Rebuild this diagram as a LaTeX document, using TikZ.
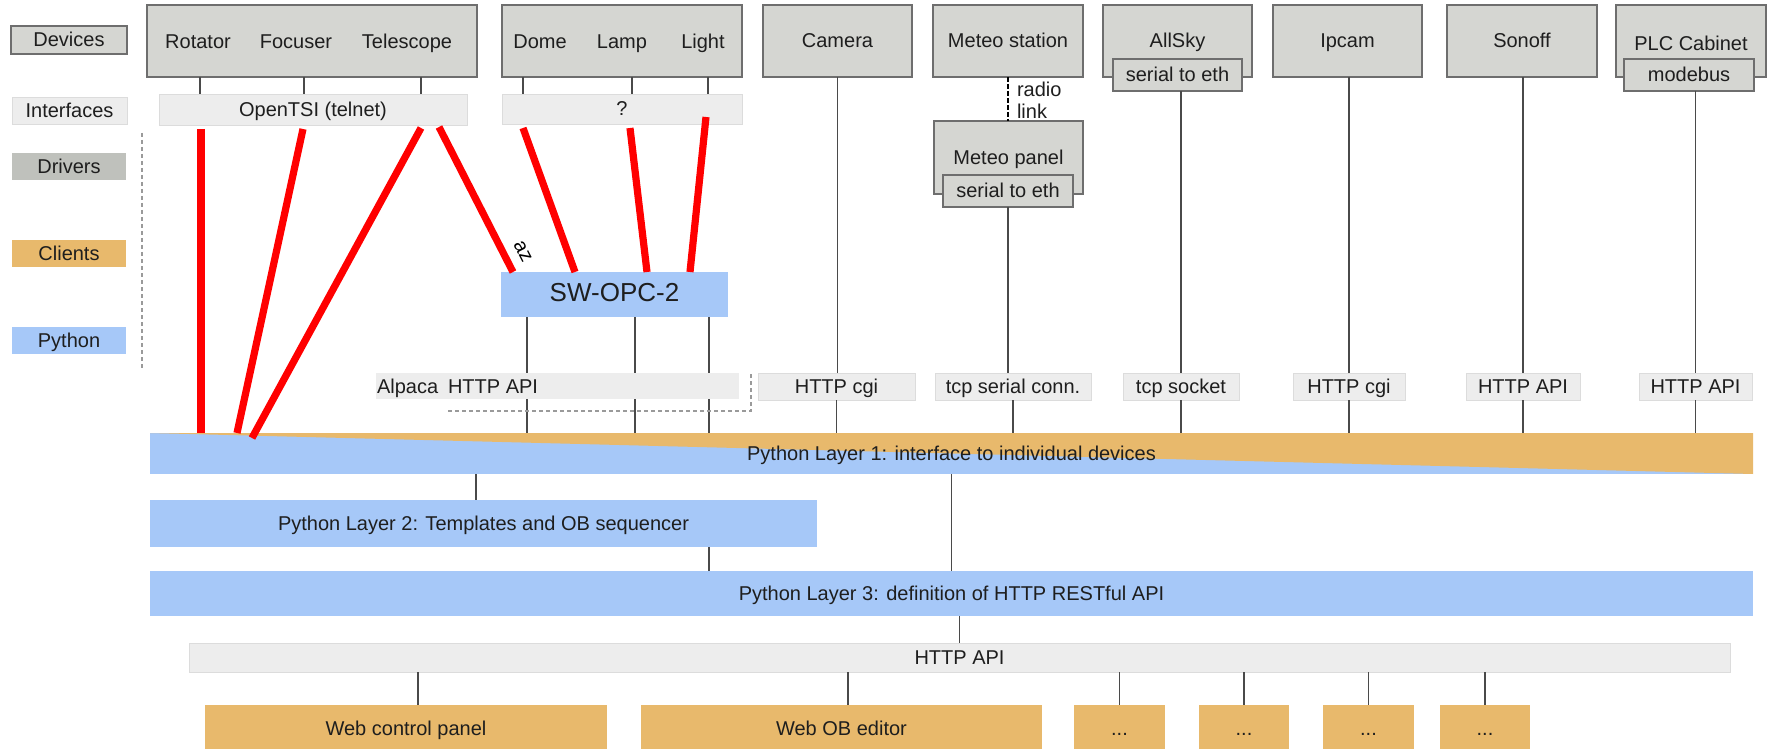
\documentclass[tikz,border=0pt]{standalone}
\usepackage{fontspec}
\setmainfont{Liberation Sans}
\usetikzlibrary{calc}
\definecolor{devgray}{HTML}{D5D6D2}
\definecolor{devborder}{HTML}{6E6E6E}
\definecolor{ifgray}{HTML}{EDEDED}
\definecolor{ifborder}{HTML}{DCDCDC}
\definecolor{drvgray}{HTML}{BFC1BC}
\definecolor{clorange}{HTML}{E8B96C}
\definecolor{pyblue}{HTML}{A6C8F8}
\definecolor{lnkgray}{HTML}{4A4A4A}
\definecolor{txtcol}{HTML}{1E1E1E}
\definecolor{dashgray}{HTML}{9A9A9A}

\newcommand\bx[7]{\node[#6, minimum width={(#4-#2)*0.5pt}, minimum height={(#5-#3)*0.5pt}] (#1) at ({(#2+#4)/2},{(#3+#5)/2}) {#7};}

\tikzset{
  every node/.style={inner sep=0pt, outer sep=0pt, text=txtcol, font=\fontsize{10}{12}\selectfont, text height=8pt, text depth=1pt},
  devbox/.style={draw=devborder, fill=devgray, line width=0.9pt},
  ifbox/.style={draw=ifborder, fill=ifgray, line width=0.4pt},
  drvbox/.style={fill=drvgray},
  clbox/.style={fill=clorange},
  pybox/.style={fill=pyblue},
  lnk/.style={draw=lnkgray, line width=0.75pt},
  dlnk/.style={draw=dashgray, line width=0.6pt, dash pattern=on 2pt off 1.5pt},
  redl/.style={draw=red, line width=3.6pt},
}

\begin{document}
\begin{tikzpicture}[x=0.5pt, y=-0.5pt]
\useasboundingbox (0,0) rectangle (1769,749);

% ---------- legend ----------
\bx{lgdev}{11}{26}{127}{54}{devbox}{Devices}
\bx{lgif}{12}{97}{127}{124}{ifbox}{Interfaces}
\bx{lgdrv}{12}{153}{126}{180}{drvbox}{Drivers}
\bx{lgcl}{12}{240}{126}{267}{clbox}{Clients}
\bx{lgpy}{12}{327}{126}{354}{pybox}{Python}
\coordinate (dsa) at (142,133);
\coordinate (dsb) at (142,370);
\draw[dlnk] (dsa) -- (dsb);

% ---------- devices ----------
\bx{dev1}{147}{5}{477}{77}{devbox}{}
\node (rot) at (198,42) {Rotator};
\node (foc) at (296,42) {Focuser};
\node (tel) at (407,42) {Telescope};
\bx{tsi}{159}{94}{467}{125}{ifbox}{OpenTSI (telnet)}

\bx{dev2}{502}{5}{742}{77}{devbox}{}
\node (dome) at (540,42) {Dome};
\node (lamp) at (622,42) {Lamp};
\node (light) at (703,42) {Light};
\bx{qif}{502}{94}{742}{124}{ifbox}{?}

\bx{cam}{763}{5}{912}{77}{devbox}{Camera}
\bx{met}{933}{5}{1083}{77}{devbox}{Meteo station}
\bx{metp}{934}{121}{1083}{194}{devbox}{Meteo panel}
\bx{mps}{943}{175}{1073}{207}{devbox}{serial to eth}
\node[align=left, anchor=west, font=\fontsize{10}{11}\selectfont, text height=, text depth=] (radio) at (1017,100) {radio\\link};

\bx{alls}{1103}{5}{1252}{77}{devbox}{AllSky}
\bx{alls2}{1113}{59}{1242}{91}{devbox}{serial to eth}
\bx{ipc}{1273}{5}{1422}{77}{devbox}{Ipcam}
\bx{son}{1447}{5}{1597}{77}{devbox}{Sonoff}
\bx{plc}{1616}{5}{1766}{77}{devbox}{}
\node (plct) at (1691,44) {PLC Cabinet};
\bx{plc2}{1624}{59}{1754}{91}{devbox}{modebus}

% ---------- SW-OPC-2 ----------
\bx{opc}{501}{272}{728}{317}{pybox}{\fontsize{13}{15}\selectfont SW-OPC-2}

% ---------- interface row ----------
\bx{alp}{376}{373}{739}{399}{ifbox, draw=none}{}
\node[anchor=west] (alpt) at (377,386) {Alpaca};
\node[anchor=west] (alph) at (448,386) {HTTP API};
\bx{cgi1}{758}{373}{915}{400}{ifbox}{HTTP cgi}
\bx{tcps}{935}{373}{1091}{400}{ifbox}{tcp serial conn.}
\bx{tcpk}{1123}{373}{1239}{400}{ifbox}{tcp socket}
\bx{cgi2}{1293}{373}{1405}{400}{ifbox}{HTTP cgi}
\bx{api1}{1466}{373}{1580}{400}{ifbox}{HTTP API}
\bx{api2}{1639}{373}{1752}{400}{ifbox}{HTTP API}

% ---------- python layers ----------
\bx{L1}{150}{433}{1753}{474}{pybox, path picture={\fill[clorange] (path picture bounding box.north west) -- (path picture bounding box.north east) -- (path picture bounding box.south east) -- cycle;}}{Python Layer 1: interface to individual devices}
\bx{L2}{150}{500}{817}{547}{pybox}{Python Layer 2: Templates and OB sequencer}
\bx{L3}{150}{571}{1753}{616}{pybox}{Python Layer 3: definition of HTTP RESTful API}
\bx{hapi}{189}{643}{1730}{672}{ifbox}{HTTP API}

% ---------- clients ----------
\bx{wcp}{205}{705}{607}{751}{clbox}{Web control panel}
\bx{wob}{641}{705}{1042}{751}{clbox}{Web OB editor}
\bx{d1}{1074}{705}{1165}{751}{clbox}{...}
\bx{d2}{1199}{705}{1289}{751}{clbox}{...}
\bx{d3}{1323}{705}{1414}{751}{clbox}{...}
\bx{d4}{1440}{705}{1530}{751}{clbox}{...}

% ---------- x positions of connectors ----------
\coordinate (xa) at (200,0);
\coordinate (xb) at (304,0);
\coordinate (xc) at (421,0);
\coordinate (xd) at (523,0);
\coordinate (xe) at (632,0);
\coordinate (xf) at (708,0);
\coordinate (xo1) at (527,0);
\coordinate (xo2) at (635,0);
\coordinate (xo3) at (709,0);
\coordinate (xl12) at (476,0);
\coordinate (xl23) at (709,0);
\coordinate (xw1) at (418,0);
\coordinate (xw2) at (848,0);

% device -> interface
\foreach \c in {xa,xb,xc} \draw[lnk] (\c|-dev1.south) -- (\c|-tsi.north);
\foreach \c in {xd,xe,xf} \draw[lnk] (\c|-dev2.south) -- (\c|-qif.north);
\draw[lnk] (cam.south) -- (cam.south|-cgi1.north);
\draw[lnk] (cgi1.south) -- (cgi1.south|-L1.north);
\draw[draw=black, line width=0.6pt, dash pattern=on 2.5pt off 1pt] (mps.south|-met.south) -- (mps.south|-metp.north);
\draw[lnk] (mps.south) -- (mps.south|-tcps.north);
\draw[lnk] (tcps.south) -- (tcps.south|-L1.north);
\draw[lnk] (tcpk.north|-alls2.south) -- (tcpk.north);
\draw[lnk] (tcpk.south) -- (tcpk.south|-L1.north);
\draw[lnk] (cgi2.north|-ipc.south) -- (cgi2.north);
\draw[lnk] (cgi2.south) -- (cgi2.south|-L1.north);
\draw[lnk] (api1.north|-son.south) -- (api1.north);
\draw[lnk] (api1.south) -- (api1.south|-L1.north);
\draw[lnk] (api2.north|-plc2.south) -- (api2.north);
\draw[lnk] (api2.south) -- (api2.south|-L1.north);

% SW-OPC-2 -> Alpaca -> Layer 1
\foreach \c in {xo1,xo2,xo3} {
  \draw[lnk] (\c|-opc.south) -- (\c|-alp.north);
  \draw[lnk] (\c|-alp.south) -- (\c|-L1.north);
}
\coordinate (da) at (448,411);
\coordinate (db) at (751,411);
\coordinate (dc) at (751,373);
\draw[dlnk] (da) -- (db) -- (dc);

% layers
\draw[lnk] (xl12|-L1.south) -- (xl12|-L2.north);
\draw[lnk] (L1.south) -- (L1.south|-L3.north);
\draw[lnk] (xl23|-L2.south) -- (xl23|-L3.north);
\draw[lnk] (hapi.north|-L3.south) -- (hapi.north);
\draw[lnk] (xw1|-hapi.south) -- (xw1|-wcp.north);
\draw[lnk] (xw2|-hapi.south) -- (xw2|-wob.north);
\foreach \c in {d1,d2,d3,d4} \draw[lnk] (\c.north|-hapi.south) -- (\c.north);

% ---------- red driver lines ----------
\coordinate (r1s) at (201,129); \coordinate (r1e) at (201,433);
\coordinate (r2s) at (303,129); \coordinate (r2e) at (237,433);
\coordinate (r3s) at (421,128); \coordinate (r3e) at (252,438);
\coordinate (r4s) at (439,127); \coordinate (r4e) at (513,272);
\coordinate (r5s) at (523,128); \coordinate (r5e) at (575,272);
\coordinate (r6s) at (630,128); \coordinate (r6e) at (647,272);
\coordinate (r7s) at (706,117); \coordinate (r7e) at (690,272);
\foreach \i in {1,...,7} \draw[redl] (r\i s) -- (r\i e);
\node[rotate=-63, anchor=base, text=black, text height=, text depth=] (az) at (518,254) {az};

\end{tikzpicture}
\end{document}
